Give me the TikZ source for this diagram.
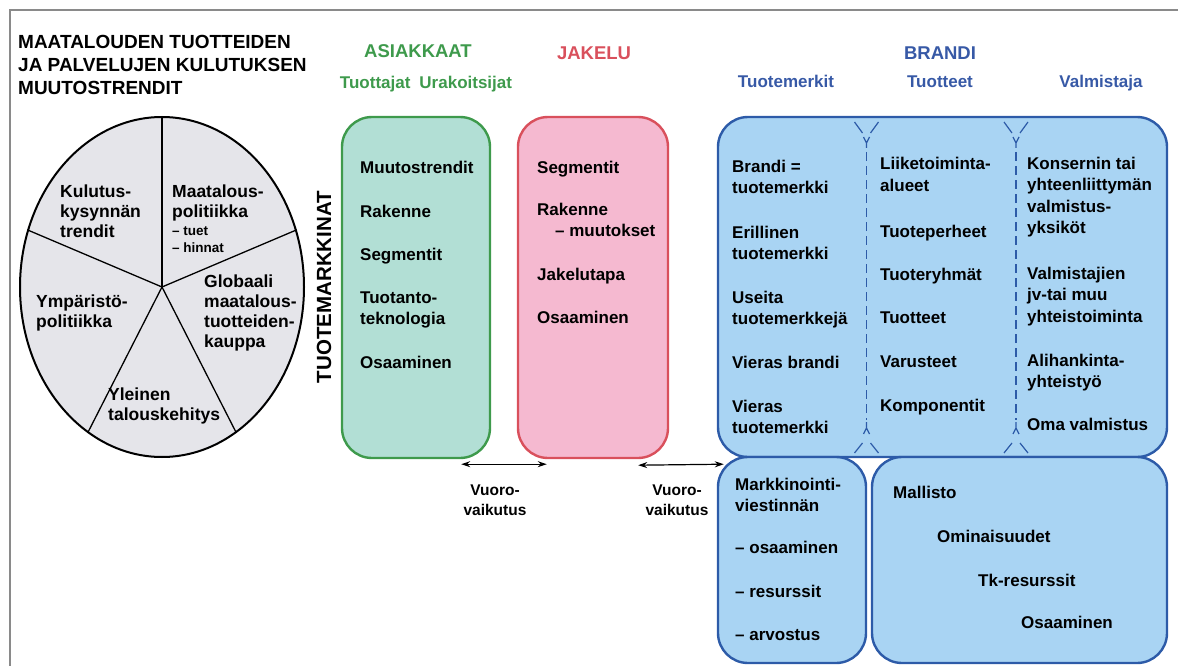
\documentclass[tikz,border=0pt]{standalone}
\usepackage{fontspec}
\setmainfont{Liberation Sans}
\usetikzlibrary{positioning, shapes.geometric, arrows.meta}

\definecolor{asgreen}{HTML}{3E9A4C}
\definecolor{asfill}{HTML}{B2DFD5}
\definecolor{jkred}{HTML}{D9505C}
\definecolor{jkfill}{HTML}{F5B9D0}
\definecolor{brblue}{HTML}{3759A6}
\definecolor{brline}{HTML}{2D5BA8}
\definecolor{brfill}{HTML}{A9D4F3}
\definecolor{piefill}{HTML}{E5E5EA}
\definecolor{framegray}{HTML}{8A8A8A}

\tikzset{
txt/.style={font=\bfseries\fontsize{17}{21.5}\selectfont, inner sep=0pt, anchor=base west, align=left}, % text in the boxes, placed at the baseline of the last line
pietxt/.style={txt, font=\bfseries\fontsize{17.5}{20}\selectfont},
piesmall/.style={txt, font=\bfseries\fontsize{13.5}{17}\selectfont},
title/.style={txt, font=\bfseries\fontsize{19}{23}\selectfont},
head/.style={font=\bfseries\fontsize{18.5}{22}\selectfont, inner sep=0pt, anchor=base},
subhead/.style={font=\bfseries\fontsize{17}{20}\selectfont, inner sep=0pt, anchor=base},
vvtxt/.style={font=\bfseries\fontsize{15.5}{20}\selectfont, inner sep=0pt, anchor=base, align=center},
box/.style={rounded corners=30pt, line width=2.4pt, inner sep=0pt}, % the rounded panels
pie/.style={ellipse, draw, line width=2pt, fill=piefill, inner sep=0pt, minimum width=284pt, minimum height=340pt},
spoke/.style={line width=1.3pt},
sep/.style={brline, line width=1.2pt},
vv/.style={{Stealth[length=9pt,width=6pt]}-{Stealth[length=9pt,width=6pt]}, line width=1.2pt},
}

\begin{document}
\begin{tikzpicture}[x=1pt, y=-1pt]
\useasboundingbox (0,0) rectangle (1178,666);
\draw[framegray, line width=1.6pt] (10,666) -- (10,10) -- (1178,10);

% title and the pie
\node[title] (otsikko) at (18,95) {MAATALOUDEN TUOTTEIDEN\\JA PALVELUJEN KULUTUKSEN\\MUUTOSTRENDIT};
\node[pie] (pie) at (162,287) {};
\foreach \a in {90,23,157,243,297}
  \draw[spoke] (pie.center) -- (pie.\a);
\node[pietxt] (kulutus) at (60,237) {Kulutus-\\kysynnän\\trendit};
\node[pietxt] (maatalous) at (172,217) {Maatalous-\\politiikka};
\node[piesmall] (tuet) at (172,252) {-- tuet\\-- hinnat};
\node[pietxt] (globaali) at (204,347) {Globaali\\maatalous-\\tuotteiden-\\kauppa};
\node[pietxt] (ymparisto) at (36,327) {Ympäristö-\\politiikka};
\node[pietxt] (yleinen) at (108,420) {Yleinen\\talouskehitys};

% headings
\node[head, asgreen] (asiakkaat-h) at (418,58) {ASIAKKAAT};
\node[subhead, asgreen] (tuottajat-h) at (426,89) {Tuottajat\hspace{9pt}Urakoitsijat};
\node[head, jkred] (jakelu-h) at (594,60) {JAKELU};
\node[head, brblue] (brandi-h) at (940,60) {BRANDI};
\node[subhead, brblue] (merkit-h) at (786,88) {Tuotemerkit};
\node[subhead, brblue] (tuotteet-h) at (940,88) {Tuotteet};
\node[subhead, brblue] (valmistaja-h) at (1101,88) {Valmistaja};
\node[rotate=90, font=\bfseries\fontsize{20.5}{24}\selectfont, inner sep=0pt] (tuotemarkkinat) at (324,287) {TUOTEMARKKINAT};

% panels
\node[box, draw=asgreen, fill=asfill, minimum width=148pt, minimum height=341pt] (asiakkaat) at (416,287.5) {};
\node[box, draw=jkred, fill=jkfill, minimum width=150pt, minimum height=341pt] (jakelu) at (593,287.5) {};
\node[box, draw=brline, fill=brfill, minimum width=449pt, minimum height=340pt] (brandi) at (942.5,287) {};
\node[box, draw=brline, fill=brfill, minimum width=148pt, minimum height=206pt] (viestinta) at (792,560) {};
\node[box, draw=brline, fill=brfill, minimum width=295pt, minimum height=206pt] (mallisto) at (1019.5,560) {};

% column separators in BRANDI
\foreach \x in {866.5,1016} {
  \draw[sep] (\x-12,122) -- (\x-4,133) (\x+12,122) -- (\x+4,133);
  \draw[sep] (\x-3,137) -- (\x,143) -- (\x+3,137) (\x,143) -- (\x,148);
  \draw[sep, dash pattern=on 9pt off 5pt] (\x,152) -- (\x,420);
  \draw[sep] (\x-3,434) -- (\x,428) -- (\x+3,434) (\x,428) -- (\x,422);
  \draw[sep] (\x-12,453) -- (\x-4,443) (\x+12,453) -- (\x+4,443);
}

% ASIAKKAAT
\node[txt] (muutostrendit) at (360,173) {Muutostrendit};
\node[txt] (rakenne-a) at (360,217) {Rakenne};
\node[txt] (segmentit-a) at (360,260) {Segmentit};
\node[txt] (tuotanto) at (360,324.5) {Tuotanto-\\teknologia};
\node[txt] (osaaminen-a) at (360,368) {Osaaminen};

% JAKELU
\node[txt] (segmentit-j) at (537,173) {Segmentit};
\node[txt] (rakenne-j) at (537,236.5) {Rakenne\\\hspace*{18pt}-- muutokset};
\node[txt] (jakelutapa) at (537,280) {Jakelutapa};
\node[txt] (osaaminen-j) at (537,323) {Osaaminen};

% BRANDI: tuotemerkit
\node[txt] (brandi1) at (732,193.5) {Brandi =\\tuotemerkki};
\node[txt] (erillinen) at (732,259.5) {Erillinen\\tuotemerkki};
\node[txt] (useita) at (732,324.5) {Useita\\tuotemerkkejä};
\node[txt] (vieras1) at (732,368) {Vieras brandi};
\node[txt] (vieras2) at (732,433.5) {Vieras\\tuotemerkki};

% BRANDI: tuotteet
\node[txt] (liiketoiminta) at (880,191.5) {Liiketoiminta-\\alueet};
\node[txt] (perheet) at (880,237) {Tuoteperheet};
\node[txt] (ryhmat) at (880,280) {Tuoteryhmät};
\node[txt] (tuotteet) at (880,323) {Tuotteet};
\node[txt] (varusteet) at (880,367) {Varusteet};
\node[txt] (komponentit) at (880,411) {Komponentit};

% BRANDI: valmistaja
\node[txt] (konserni) at (1027,233.5) {Konsernin tai\\yhteenliittymän\\valmistus-\\yksiköt};
\node[txt] (valmistajien) at (1027,322) {Valmistajien\\jv-tai muu\\yhteistoiminta};
\node[txt] (alihankinta) at (1027,387.5) {Alihankinta-\\yhteistyö};
\node[txt] (oma) at (1027,430) {Oma valmistus};

% lower panels
\node[txt] (markkinointi) at (735,511.5) {Markkinointi-\\viestinnän};
\node[txt] (osaaminen-v) at (735,553) {-- osaaminen};
\node[txt] (resurssit) at (735,597) {-- resurssit};
\node[txt] (arvostus) at (735,640) {-- arvostus};
\node[txt] (mallisto-t) at (893,498) {Mallisto};
\node[txt] (ominaisuudet) at (937,542) {Ominaisuudet};
\node[txt] (tk) at (978,586) {Tk-resurssit};
\node[txt] (osaaminen-m) at (1021,628) {Osaaminen};

% interaction arrows
\coordinate (vv1a) at ([xshift=-30pt,yshift=-5pt]asiakkaat.south east);
\coordinate (vv1b) at ([xshift=30pt,yshift=-5pt]jakelu.south west);
\coordinate (vv2a) at ([xshift=-31pt,yshift=-6pt]jakelu.south east);
\coordinate (vv2b) at ([xshift=7pt,yshift=-6pt]brandi.south west);
\draw[vv] (vv1a) -- (vv1b);
\draw[vv] (vv2a) -- (vv2b);
\node[vvtxt] (vuoro1) at (495,515) {Vuoro-\\vaikutus};
\node[vvtxt] (vuoro2) at (677,515) {Vuoro-\\vaikutus};
\end{tikzpicture}
\end{document}
